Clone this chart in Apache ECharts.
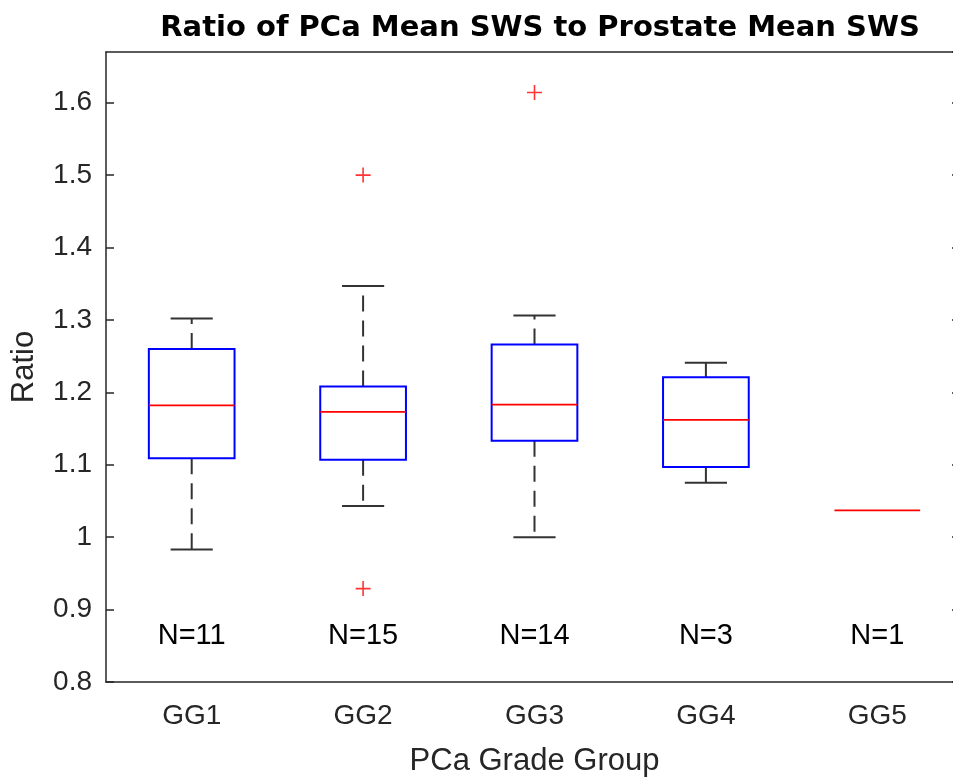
<!DOCTYPE html>
<html>
<head>
<meta charset="utf-8">
<script src="https://cdn.jsdelivr.net/npm/echarts@6/dist/echarts.min.js"></script>
<style>
html, body { margin: 0; padding: 0; background: #fff; overflow: hidden; }
#main { width: 965px; height: 783px; }
</style>
</head>
<body>
<div id="main"></div>
<script>
// grade groups on the x axis
var groups = ['GG1', 'GG2', 'GG3', 'GG4', 'GG5'];
// box statistics
var lowWhisker  = [0.983, 1.043, 1.000, 1.075, 1.037];
var q1          = [1.109, 1.107, 1.133, 1.097, 1.037];
var median      = [1.182, 1.173, 1.183, 1.162, 1.037];
var q3          = [1.260, 1.208, 1.266, 1.221, 1.037];
var highWhisker = [1.302, 1.347, 1.306, 1.241, 1.037];
// outliers: [group index, value]
var outliers = [[1, 1.500], [1, 0.929], [2, 1.614]];
// sample sizes printed under each box
var counts = ['N=11', 'N=15', 'N=14', 'N=3', 'N=1'];
var countLevel = 0.864;

var boxData = groups.map(function (g, i) {
    return [i, lowWhisker[i], q1[i], median[i], q3[i], highWhisker[i]];
});
var countData = counts.map(function (c, i) {
    return [i, countLevel];
});

var axisColor = '#262626';
var whiskerColor = '#333333';

function renderBox(params, api) {
    var x = api.value(0);
    var band = api.size([1, 0])[0];
    var bw = band * 0.25;
    var cw = band * 0.123;
    var pLo = api.coord([x, api.value(1)]);
    var pQ1 = api.coord([x, api.value(2)]);
    var pMed = api.coord([x, api.value(3)]);
    var pQ3 = api.coord([x, api.value(4)]);
    var pHi = api.coord([x, api.value(5)]);
    var cx = pMed[0];
    var kids = [];
    var dashed = { stroke: whiskerColor, lineWidth: 2, lineDash: [16, 9] };
    var solid = { stroke: whiskerColor, lineWidth: 2 };

    if (pHi[1] < pQ3[1] - 0.5) {
        kids.push({ type: 'line', shape: { x1: cx, y1: pQ3[1], x2: cx, y2: pHi[1] }, style: dashed });
        kids.push({ type: 'line', shape: { x1: cx - cw, y1: pHi[1], x2: cx + cw, y2: pHi[1] }, style: solid });
    }
    if (pLo[1] > pQ1[1] + 0.5) {
        kids.push({ type: 'line', shape: { x1: cx, y1: pQ1[1], x2: cx, y2: pLo[1] }, style: dashed });
        kids.push({ type: 'line', shape: { x1: cx - cw, y1: pLo[1], x2: cx + cw, y2: pLo[1] }, style: solid });
    }
    if (pQ1[1] - pQ3[1] > 0.5) {
        kids.push({
            type: 'rect',
            shape: { x: cx - bw, y: pQ3[1], width: bw * 2, height: pQ1[1] - pQ3[1] },
            style: { fill: 'none', stroke: '#0000ff', lineWidth: 2 }
        });
    }
    kids.push({
        type: 'line',
        shape: { x1: cx - bw, y1: pMed[1], x2: cx + bw, y2: pMed[1] },
        style: { stroke: '#ff0000', lineWidth: 1.6 }
    });
    return { type: 'group', children: kids };
}

function renderCount(params, api) {
    var p = api.coord([api.value(0), api.value(1)]);
    return {
        type: 'text',
        x: p[0],
        y: p[1],
        style: {
            text: counts[params.dataIndex],
            align: 'center',
            verticalAlign: 'middle',
            fontSize: 29,
            fontFamily: 'Liberation Sans',
            fill: '#000'
        }
    };
}

var chart = echarts.init(document.getElementById('main'));
chart.setOption({
    animation: false,
    backgroundColor: '#fff',
    title: {
        text: 'Ratio of PCa Mean SWS to Prostate Mean SWS',
        left: 535,
        top: 9,
        textAlign: 'center',
        textStyle: {
            fontFamily: 'DejaVu Sans',
            fontWeight: 'bold',
            fontSize: 29,
            color: '#000'
        }
    },
    grid: { left: 106, right: 2, top: 52, bottom: 101 },
    xAxis: [{
        type: 'category',
        data: groups,
        name: 'PCa Grade Group',
        nameLocation: 'middle',
        nameGap: 64,
        nameTextStyle: { fontFamily: 'Liberation Sans', fontSize: 31, color: axisColor },
        axisLine: { lineStyle: { color: axisColor, width: 1.5 } },
        axisTick: { inside: true, alignWithLabel: true, length: 8, lineStyle: { color: axisColor, width: 1.5 } },
        axisLabel: { margin: 20, fontFamily: 'Liberation Sans', fontSize: 28, color: axisColor },
        splitLine: { show: false }
    }, {
        type: 'category',
        data: groups,
        position: 'top',
        axisLine: { lineStyle: { color: axisColor, width: 1.5 } },
        axisTick: { inside: true, alignWithLabel: true, length: 8, lineStyle: { color: axisColor, width: 1.5 } },
        axisLabel: { show: false },
        splitLine: { show: false }
    }],
    yAxis: [{
        type: 'value',
        min: 0.8,
        max: 1.67,
        interval: 0.1,
        name: 'Ratio',
        nameLocation: 'middle',
        nameGap: 66,
        nameRotate: 90,
        nameTextStyle: { fontFamily: 'Liberation Sans', fontSize: 31, color: axisColor },
        axisLine: { show: true, lineStyle: { color: axisColor, width: 1.5 } },
        axisTick: { show: true, inside: true, length: 8, lineStyle: { color: axisColor, width: 1.5 } },
        axisLabel: { margin: 14, fontFamily: 'Liberation Sans', fontSize: 28, color: axisColor, showMaxLabel: false },
        splitLine: { show: false }
    }, {
        type: 'value',
        min: 0.8,
        max: 1.67,
        interval: 0.1,
        position: 'right',
        axisLine: { show: true, lineStyle: { color: axisColor, width: 1.5 } },
        axisTick: { show: true, inside: true, length: 11, lineStyle: { color: axisColor, width: 1.5 } },
        axisLabel: { show: false },
        splitLine: { show: false }
    }],
    series: [{
        type: 'custom',
        name: 'box',
        xAxisIndex: 0,
        yAxisIndex: 0,
        renderItem: renderBox,
        encode: { x: 0, y: [1, 2, 3, 4, 5] },
        data: boxData,
        z: 3
    }, {
        type: 'scatter',
        name: 'outliers',
        xAxisIndex: 0,
        yAxisIndex: 0,
        symbol: 'path://M5,0L5,10M0,5L10,5',
        symbolSize: 15,
        itemStyle: { color: 'transparent', borderColor: '#ff0000', borderWidth: 1.6 },
        data: outliers,
        z: 4
    }, {
        type: 'custom',
        name: 'counts',
        xAxisIndex: 0,
        yAxisIndex: 0,
        renderItem: renderCount,
        encode: { x: 0, y: 1 },
        data: countData,
        z: 4
    }]
});
</script>
</body>
</html>
